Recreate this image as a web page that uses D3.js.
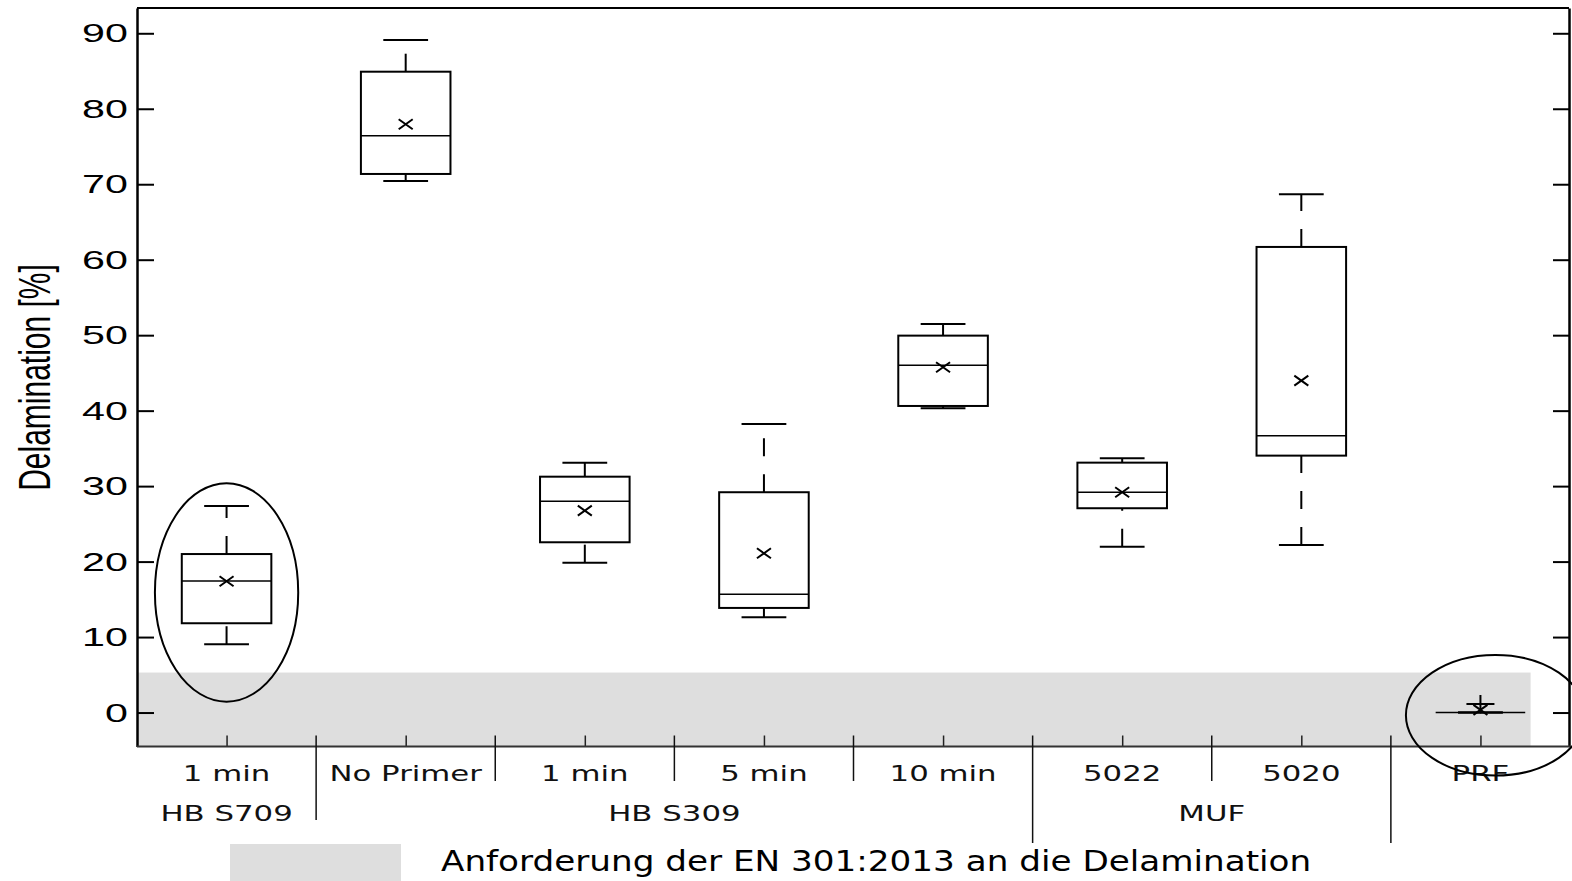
<!DOCTYPE html>
<html>
<head>
<meta charset="utf-8">
<script src="https://cdn.jsdelivr.net/npm/d3@7"></script>
<style>
  html, body { margin: 0; padding: 0; background: #fff; }
  svg { display: block; }
</style>
</head>
<body>
<svg id="chart" width="1572" height="881"></svg>
<script>
// Delamination per primer / adhesive system (box plots: whiskers, quartiles, median, mean)
const categories = ["1 min", "No Primer", "1 min", "5 min", "10 min", "5022", "5020", "PRF"];
const groupNames = ["HB S709", "HB S309", "MUF"];
const groupOf    = [0, 1, 1, 1, 1, 2, 2, -1];

const whiskerLow  = [9.05, 70.43, 19.86, 12.63, 40.32, 21.98, 22.2, 0];
const quartile1   = [11.83, 71.36, 22.56, 13.86, 40.62, 27.07, 34.04, 0];
const medians     = [17.43, 76.43, 28.0, 15.67, 46.01, 29.19, 36.68, 0];
const quartile3   = [21.0, 84.91, 31.25, 29.19, 49.94, 33.11, 61.69, 0];
const whiskerHigh = [27.37, 89.11, 33.1, 38.24, 51.48, 33.69, 68.67, 0];
const means       = [17.4, 77.94, 26.75, 21.1, 45.75, 29.19, 43.97, 0.35];
const outliers    = [[], [], [], [], [], [], [], [1.14]];

const yTicks = [0, 10, 20, 30, 40, 50, 60, 70, 80, 90];
const requirementLimit = 5.3;   // EN 301:2013 delamination requirement band
const legendText = "Anforderung der EN 301:2013 an die Delamination";
const yTitle = "Delamination [%]";

// highlighted groups: ellipse around category index, centre value, half-axes
const highlights = [
  { cat: 0, dx: 0.0,   cy: 15.91, rxBand: 0.40, ryVal: 14.47 },
  { cat: 7, dx: 0.084, cy: -0.36, rxBand: 0.50, ryVal: 7.99 }
];

const svg = d3.select("#chart");
const plotLeft = 137, plotRight = 1570, plotTop = 8, plotBottom = 746.5;

const x = d3.scaleBand().domain(d3.range(categories.length)).range([plotLeft, plotRight]).padding(0);
const y = d3.scaleLinear().domain([-4.5, 93.35]).range([plotBottom, plotTop]);
const bw = x.bandwidth();
const cx = i => x(i) + bw / 2;

// requirement band
svg.append("rect")
  .attr("x", plotLeft)
  .attr("y", y(requirementLimit))
  .attr("width", cx(7) + 0.28 * bw - plotLeft)
  .attr("height", plotBottom - y(requirementLimit))
  .attr("fill", "#dedede");

// frame: top line
svg.append("line")
  .attr("x1", plotLeft).attr("x2", plotRight - 1).attr("y1", plotTop).attr("y2", plotTop)
  .attr("stroke", "#000").attr("stroke-width", 2);

// left axis with inward ticks
const yAxisL = svg.append("g")
  .attr("transform", `translate(${plotLeft},0)`)
  .call(d3.axisLeft(y).tickValues(yTicks).tickSize(-17).tickSizeOuter(0).tickFormat(""));
yAxisL.select(".domain").attr("stroke-width", 2.5);
yAxisL.selectAll(".tick line").attr("stroke-width", 2);

// right axis with inward ticks
const yAxisR = svg.append("g")
  .attr("transform", `translate(${plotRight - 1},0)`)
  .call(d3.axisRight(y).tickValues(yTicks).tickSize(-16).tickSizeOuter(0).tickFormat(""));
yAxisR.select(".domain").attr("stroke-width", 2.5);
yAxisR.selectAll(".tick line").attr("stroke-width", 2);

// y tick labels (wide set)
yTicks.forEach(v => {
  svg.append("g")
    .attr("transform", `translate(${plotLeft - 9},${y(v)}) scale(1.65,1)`)
    .append("text")
    .attr("text-anchor", "end")
    .attr("dy", "0.36em")
    .attr("font-family", "Liberation Sans, Arial, sans-serif")
    .attr("font-size", 25)
    .attr("fill", "#000")
    .text(v);
});

// y title
svg.append("g")
  .attr("transform", `translate(49.5,377.5) rotate(-90) scale(1,1.49)`)
  .append("text")
  .attr("text-anchor", "middle")
  .attr("font-family", "Liberation Sans, Arial, sans-serif")
  .attr("font-size", 30)
  .attr("fill", "#000")
  .text(yTitle);

// bottom axis: ticks at category centres
const xAxis = svg.append("g")
  .attr("transform", `translate(0,${plotBottom})`)
  .call(d3.axisBottom(d3.scalePoint().domain(d3.range(categories.length)).range([cx(0), cx(7)]))
    .tickSize(-11).tickSizeOuter(0).tickFormat(""));
xAxis.select(".domain").remove();
xAxis.selectAll(".tick line").attr("stroke", "#222").attr("stroke-width", 1.5);
svg.append("line")
  .attr("x1", plotLeft).attr("x2", plotRight).attr("y1", plotBottom).attr("y2", plotBottom)
  .attr("stroke", "#333").attr("stroke-width", 2);

// category separators; group boundaries reach into the second label row
const row1 = 781, row2 = 821;
for (let i = 0; i < categories.length - 1; i++) {
  const sx = x(i + 1);
  const boundary = groupOf[i] !== groupOf[i + 1];
  const yEnd = boundary ? (i === 0 ? row2 - 1 : row2 + 22) : row1;
  svg.append("line")
    .attr("x1", sx).attr("x2", sx)
    .attr("y1", plotBottom - 11).attr("y2", yEnd)
    .attr("stroke", "#111").attr("stroke-width", 1.5);
}

// category labels
const labelFont = "DejaVu Sans, Verdana, sans-serif";
categories.forEach((c, i) => {
  svg.append("g")
    .attr("transform", `translate(${cx(i)},${row1}) scale(1.4,1)`)
    .append("text")
    .attr("text-anchor", "middle")
    .attr("font-family", labelFont)
    .attr("font-size", 22)
    .attr("fill", "#111")
    .text(c);
});

// group labels
groupNames.forEach((g, gi) => {
  const idx = d3.range(categories.length).filter(i => groupOf[i] === gi);
  const gx = (x(idx[0]) + x(idx[idx.length - 1]) + bw) / 2;
  svg.append("g")
    .attr("transform", `translate(${gx},${row2}) scale(1.4,1)`)
    .append("text")
    .attr("text-anchor", "middle")
    .attr("font-family", labelFont)
    .attr("font-size", 22)
    .attr("fill", "#111")
    .text(g);
});

// box plots
const boxW = bw * 0.5, capW = bw * 0.25;
const plot = svg.append("g").attr("fill", "none").attr("stroke", "#000");
categories.forEach((c, i) => {
  const m = cx(i);
  // upper whisker drawn from the box outward, lower from its end inward
  plot.append("line")
    .attr("x1", m).attr("x2", m).attr("y1", y(quartile3[i])).attr("y2", y(whiskerHigh[i]))
    .attr("stroke-width", 2).attr("stroke-dasharray", "18,18");
  plot.append("line")
    .attr("x1", m).attr("x2", m).attr("y1", y(whiskerLow[i])).attr("y2", y(quartile1[i]))
    .attr("stroke-width", 2).attr("stroke-dasharray", "18,18");
  [whiskerHigh[i], whiskerLow[i]].forEach(v => {
    plot.append("line")
      .attr("x1", m - capW / 2).attr("x2", m + capW / 2)
      .attr("y1", y(v)).attr("y2", y(v))
      .attr("stroke-width", 2);
  });
  plot.append("rect")
    .attr("x", m - boxW / 2).attr("width", boxW)
    .attr("y", y(quartile3[i])).attr("height", Math.max(0, y(quartile1[i]) - y(quartile3[i])))
    .attr("stroke-width", 2);
  plot.append("line")
    .attr("x1", m - boxW / 2).attr("x2", m + boxW / 2)
    .attr("y1", y(medians[i])).attr("y2", y(medians[i]))
    .attr("stroke-width", 1.6);
  // mean marker
  const my = y(means[i]);
  plot.append("path")
    .attr("d", `M${m - 7},${my - 5}L${m + 7},${my + 5}M${m - 7},${my + 5}L${m + 7},${my - 5}`)
    .attr("stroke-width", 2);
  // outliers
  outliers[i].forEach(v => {
    const oy = y(v);
    plot.append("path")
      .attr("d", `M${m - 14},${oy}L${m + 14},${oy}M${m},${oy - 9}L${m},${oy + 9}`)
      .attr("stroke-width", 2);
  });
});

// highlight ellipses
highlights.forEach(h => {
  svg.append("ellipse")
    .attr("cx", cx(h.cat) + h.dx * bw)
    .attr("cy", y(h.cy))
    .attr("rx", h.rxBand * bw)
    .attr("ry", y(0) - y(h.ryVal))
    .attr("fill", "none")
    .attr("stroke", "#000")
    .attr("stroke-width", 2);
});

// legend
svg.append("rect")
  .attr("x", 230).attr("y", 844).attr("width", 171).attr("height", 40)
  .attr("fill", "#dedede");
svg.append("g")
  .attr("transform", "translate(441,871) scale(1.18,1)")
  .append("text")
  .attr("font-family", labelFont)
  .attr("font-size", 29)
  .attr("fill", "#000")
  .text(legendText);
</script>
</body>
</html>
